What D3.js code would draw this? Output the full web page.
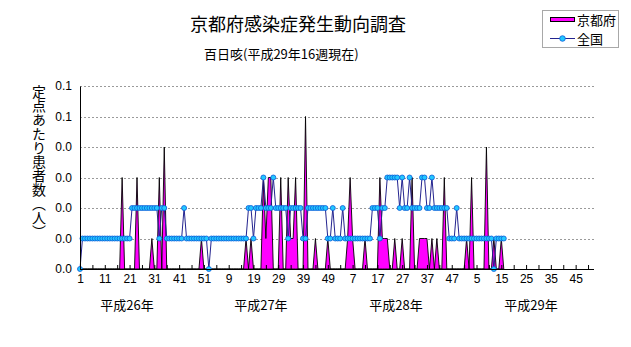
<!DOCTYPE html>
<html><head><meta charset="utf-8">
<script src="https://cdn.jsdelivr.net/npm/d3@7"></script>
<style>
html,body{margin:0;padding:0;background:#fff;}
svg{display:block;}
text{font-family:"Noto Sans CJK JP","Noto Sans",sans-serif;fill:#000;}
</style></head>
<body>
<svg id="chart" width="631" height="347"></svg>
<script>
// ---- data ----
const title = "京都府感染症発生動向調査";
const subtitle = "百日咳(平成29年16週現在)";
const yTitle = "定点あたり患者数（人）";
const seriesNames = ["京都府", "全国"];
const years = ["平成26年", "平成27年", "平成28年", "平成29年"];
const weeksPerYear = 52;
const yTicks = [0, 0.01, 0.02, 0.03, 0.04, 0.05, 0.06];

// 京都府 (per sentinel), H26 wk1 .. H29 wk16
const kyoto2014 = [0,0,0,0,0,0,0,0,0,0, 0,0,0,0,0,0,0,.03,0,0, 0,0,0,.03,0,0,0,0,0,.01,
  0,0,.03,0,.04,0,0,0,0,0, 0,0,0,0,0,0,0,0,0,.01, 0,0];
const kyoto2015 = [0,0,0,0,0,0,0,0,0,0, 0,0,0,0,0,.01,0,.01,0,0, 0,0,.03,.01,.03,.03,0,0,0,.03,
  0,0,.03,.01,.01,.03,0,0,0,.05, 0,0,0,.01,0,0,0,0,.01,0, 0,0];
const kyoto2016 = [0,0,0,0,.01,.03,.01,0,0,0, 0,.01,0,0,0,0,0,.03,.01,.01, .01,0,0,.01,0,0,.01,0,0,0,
  .03,0,0,.01,.01,.01,.01,0,.01,0, .01,0,0,.03,0,0,0,0,0,0, 0,0];
const kyoto2017 = [.01,0,.03,0,0,0,0,0,.04,0,0,.01,0,0,.01,0];

// 全国 (per sentinel)
const national2014 = [0,.01,.01,.01,.01,.01,.01,.01,.01,.01, .01,.01,.01,.01,.01,.01,.01,.01,.01,.01,
  .01,.02,.02,.02,.02,.02,.02,.02,.02,.02, .02,.02,.01,.02,.02,.01,.01,.01,.01,.01,
  .01,.01,.02,.01,.01,.01,.01,.01,.01,.01, .01,.01];
const national2015 = [0,.01,.01,.01,.01,.01,.01,.01,.01,.01, .01,.01,.01,.01,.01,.01,.02,.02,.01,.02,
  .02,.02,.03,.02,.02,.02,.03,.02,.02,.02, .02,.02,.01,.02,.02,.02,.02,.02,.01,.01,
  .02,.02,.02,.02,.02,.02,.02,.02,.01,.01, .02,.01];
const national2016 = [.01,.01,.02,.01,.01,.01,.01,.01,.01,.01, .01,.01,.01,.01,.02,.02,.02,.01,.02,.02,
  .03,.03,.03,.03,.03,.02,.03,.02,.02,.03, .02,.02,.02,.02,.03,.03,.02,.02,.03,.02,
  .02,.02,.02,.02,.02,.01,.01,.01,.02,.01, .01,.01];
const national2017 = [.01,.01,.01,.01,.01,.01,.01,.01,.01,.01,.01,0,.01,.01,.01,.01];

// ---- build ----
const kyoto = [].concat(kyoto2014, kyoto2015, kyoto2016, kyoto2017);
const national = [].concat(national2014, national2015, national2016, national2017);
const categories = [];
years.forEach((yr, yi) => { for (let w = 1; w <= weeksPerYear; w++) categories.push({year: yi, week: w}); });

const svg = d3.select("#chart");
const plotLeft = 80, plotTop = 86, plotBottom = 269, plotRight = 594;
const x = d3.scaleLinear().domain([0, categories.length - 1]).range([plotLeft, plotRight - 1]);
const y = d3.scaleLinear().domain([0, 0.06]).range([plotBottom, plotTop]);

// gridlines
svg.append("g").selectAll("line").data(yTicks.slice(1)).join("line")
  .attr("x1", plotLeft).attr("x2", plotRight)
  .attr("y1", d => Math.round(y(d)) + 0.5).attr("y2", d => Math.round(y(d)) + 0.5)
  .attr("stroke", "#9a9a9a").attr("stroke-width", 1).attr("stroke-dasharray", "2,2");

// Kyoto area
const area = d3.area().x((d, i) => x(i)).y0(y(0)).y1(d => y(d));
svg.append("path").datum(kyoto).attr("d", area)
  .attr("fill", "#ff00ff").attr("stroke", "#000").attr("stroke-width", 0.9).attr("stroke-linejoin", "miter");

// national line
const line = d3.line().x((d, i) => x(i)).y(d => y(d));
svg.append("path").datum(national).attr("d", line)
  .attr("fill", "none").attr("stroke", "#24248f").attr("stroke-width", 1);
svg.append("g").selectAll("circle").data(national).join("circle")
  .attr("cx", (d, i) => x(i)).attr("cy", d => y(d)).attr("r", 2.5)
  .attr("fill", "#22c8ff").attr("stroke", "#0a5ad8").attr("stroke-width", 0.8);

// axes
const xAxis = d3.axisBottom(x)
  .tickValues(d3.range(0, categories.length, 5))
  .tickSizeInner(-4).tickSizeOuter(0)
  .tickFormat((d) => (d % 10 === 0 ? categories[d].week : ""));
const gx = svg.append("g").attr("transform", `translate(0,${plotBottom})`).call(xAxis);
gx.select(".domain").attr("d", `M${plotLeft},0.5H${plotRight}`).attr("stroke", "#000");
gx.selectAll(".tick line").attr("stroke", "#000");
gx.selectAll(".tick text").attr("y", 14).attr("dy", 0).attr("font-size", 12)
  .style("font-family", '"Liberation Sans","Noto Sans CJK JP",sans-serif');

const yAxis = d3.axisLeft(y).tickValues(yTicks).tickSize(0).tickPadding(8)
  .tickFormat(d3.format(".1f"));
const gy = svg.append("g").attr("transform", `translate(${plotLeft},0)`).call(yAxis);
gy.select(".domain").attr("stroke", "#000");
gy.selectAll(".tick text").attr("font-size", 12)
  .style("font-family", '"Liberation Sans","Noto Sans CJK JP",sans-serif');

// year labels
const yearCenters = [19, 73, 127.5, 182];
svg.append("g").selectAll("text").data(years).join("text")
  .attr("x", (d, i) => x(yearCenters[i])).attr("y", 310)
  .attr("text-anchor", "middle").attr("font-size", 13).text(d => d);

// titles
svg.append("text").attr("x", 298).attr("y", 31).attr("text-anchor", "middle")
  .attr("font-size", 18).text(title);
svg.append("text").attr("x", 204).attr("y", 59).attr("font-size", 13).text(subtitle);

// y-axis title (vertical)
svg.append("text").attr("x", 39).attr("y", 85)
  .style("writing-mode", "vertical-rl").style("text-orientation", "mixed")
  .attr("font-size", 14).text(yTitle);

// legend
const lg = svg.append("g");
lg.append("rect").attr("x", 542.5).attr("y", 10.5).attr("width", 76).attr("height", 37)
  .attr("fill", "#fff").attr("stroke", "#a8a8a8").attr("stroke-width", 1);
lg.append("rect").attr("x", 550.5).attr("y", 17.5).attr("width", 24).attr("height", 4)
  .attr("fill", "#ff00ff").attr("stroke", "#000").attr("stroke-width", 1);
lg.append("text").attr("x", 577).attr("y", 24.5).attr("font-size", 13).text(seriesNames[0]);
lg.append("line").attr("x1", 550).attr("x2", 575).attr("y1", 38.5).attr("y2", 38.5)
  .attr("stroke", "#24248f").attr("stroke-width", 1);
lg.append("circle").attr("cx", 562.5).attr("cy", 38.5).attr("r", 2.8)
  .attr("fill", "#22c8ff").attr("stroke", "#0a5ad8").attr("stroke-width", 0.8);
lg.append("text").attr("x", 577).attr("y", 43.5).attr("font-size", 13).text(seriesNames[1]);
</script>
</body></html>
